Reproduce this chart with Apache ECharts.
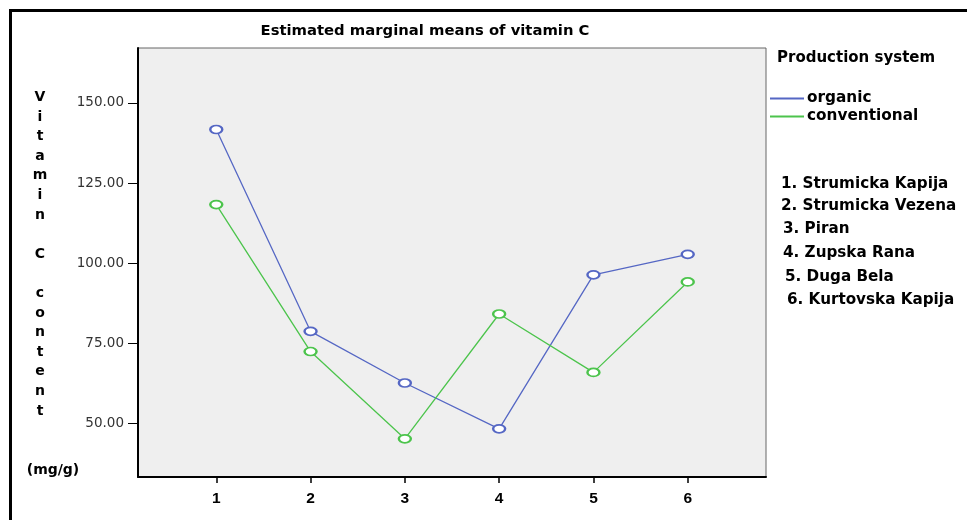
<!DOCTYPE html>
<html>
<head>
<meta charset="utf-8">
<script src="https://cdn.jsdelivr.net/npm/echarts@6/dist/echarts.min.js"></script>
<style>html,body{margin:0;padding:0;background:#fff;}#c{width:967px;height:520px;}</style>
</head>
<body>
<div id="c"></div>
<script>
const xValues = [1, 2, 3, 4, 5, 6];
const yTicks = [50, 75, 100, 125, 150];
const organic = [141.7, 78.8, 62.7, 48.4, 96.4, 102.8];
const conventional = [118.3, 72.5, 45.3, 84.2, 66.0, 94.2];
const seriesNames = ['organic', 'conventional'];
const cultivars = ['1. Strumicka Kapija', '2. Strumicka Vezena', '3. Piran', '4. Zupska Rana', '5. Duga Bela', '6. Kurtovska Kapija'];
const chartTitle = 'Estimated marginal means of vitamin C';
const legendTitle = 'Production system';
const yTitle = 'V\ni\nt\na\nm\ni\nn\n\nC\n\nc\no\nn\nt\ne\nn\nt';
const yUnit = '(mg/g)';

const chart = echarts.init(document.getElementById('c'));
const listX = [781, 781, 783, 783, 785, 787];
const listY = [184, 206, 229, 253, 277, 300];
const font = '"DejaVu Sans", Verdana, sans-serif';

const graphics = [
  { type: 'rect', shape: { x: 10.5, y: 10.5, width: 980, height: 540 }, style: { fill: 'none', stroke: '#000', lineWidth: 3 }, z: 100 },
  { type: 'text', x: 40, y: 87.5, style: { text: yTitle, font: 'bold 14px ' + font, fill: '#000', align: 'center', verticalAlign: 'top', lineHeight: 19.6 } },
  { type: 'text', x: 53, y: 470, style: { text: yUnit, font: 'bold 14px ' + font, fill: '#000', align: 'center', verticalAlign: 'middle' } },
  { type: 'text', x: 777, y: 58, style: { text: legendTitle, font: 'bold 15px ' + font, fill: '#000', align: 'left', verticalAlign: 'middle' } }
];
cultivars.forEach((c, i) => {
  graphics.push({ type: 'text', x: listX[i], y: listY[i], style: { text: c, font: 'bold 15.2px ' + font, fill: '#000', align: 'left', verticalAlign: 'middle' } });
});

chart.setOption({
  animation: false,
  backgroundColor: '#fff',
  title: {
    text: chartTitle, left: 420, top: 19, textAlign: 'center',
    textStyle: { fontFamily: font, fontWeight: 'bold', fontSize: 14.8, color: '#000' }
  },
  legend: {
    data: seriesNames, orient: 'vertical', left: 765, top: 86, itemGap: 3,
    itemWidth: 34, itemHeight: 2, icon: 'rect', itemStyle: { borderWidth: 0 },
    textStyle: { fontFamily: font, fontWeight: 'bold', fontSize: 15.3, color: '#000', padding: [0, 0, 0, -2] }
  },
  grid: {
    left: 138, top: 48, right: 201, bottom: 43, show: true,
    backgroundColor: '#efefef', borderColor: '#666', borderWidth: 1
  },
  xAxis: {
    type: 'value', min: 0.17, max: 6.83,
    axisLine: { show: true, lineStyle: { color: '#000', width: 2 } },
    axisTick: { show: true, customValues: xValues, length: 6, lineStyle: { color: '#000', width: 1.5 } },
    axisLabel: { customValues: xValues, margin: 14, fontFamily: 'Liberation Sans, Arial, sans-serif', fontWeight: 'bold', fontSize: 15.5, color: '#000' },
    splitLine: { show: false }
  },
  yAxis: {
    type: 'value', min: 33.4, max: 167.1,
    axisLine: { show: true, lineStyle: { color: '#000', width: 2 } },
    axisTick: { show: true, customValues: yTicks, length: 10, lineStyle: { color: '#000', width: 1 } },
    axisLabel: { customValues: yTicks, margin: 14, fontFamily: font, fontSize: 13.5, color: '#333', formatter: v => v.toFixed(2) },
    splitLine: { show: false }
  },
  series: [
    { name: seriesNames[0], type: 'line', data: xValues.map((x, i) => [x, organic[i]]),
      symbol: 'emptyCircle', symbolSize: [12, 8], color: '#5567c4',
      lineStyle: { width: 1.3, color: '#5567c4' }, itemStyle: { color: '#5567c4', borderWidth: 1.1 } },
    { name: seriesNames[1], type: 'line', data: xValues.map((x, i) => [x, conventional[i]]),
      symbol: 'emptyCircle', symbolSize: [12, 8], color: '#4cc44c',
      lineStyle: { width: 1.3, color: '#4cc44c' }, itemStyle: { color: '#4cc44c', borderWidth: 1.1 } }
  ],
  graphic: graphics
});
</script>
</body>
</html>
